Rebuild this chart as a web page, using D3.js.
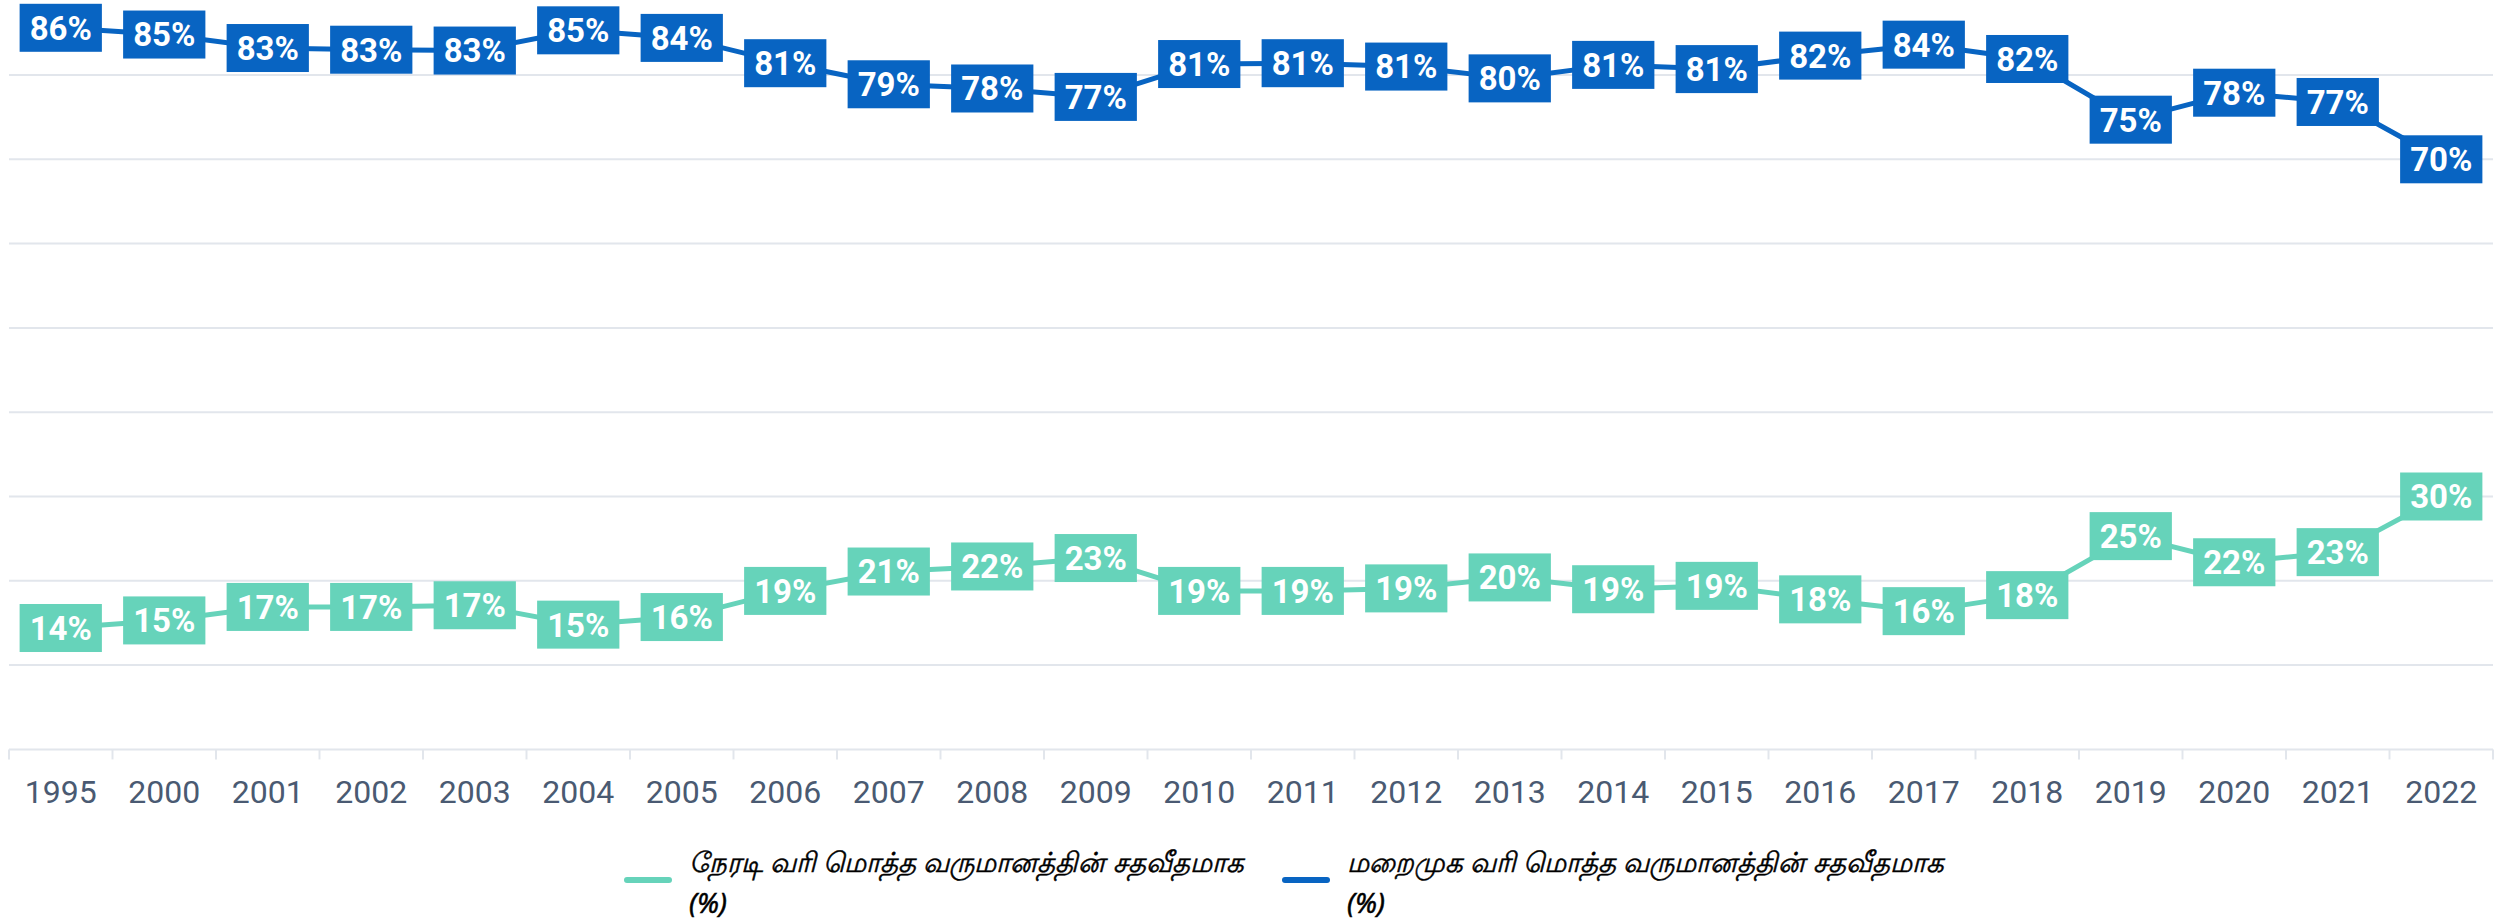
<!DOCTYPE html>
<html>
<head>
<meta charset="utf-8">
<script src="https://cdn.jsdelivr.net/npm/d3@7"></script>
<style>
  html, body { margin: 0; padding: 0; background: #ffffff; }
  svg { display: block; }
</style>
</head>
<body>
<svg id="chart" width="2496" height="921"></svg>
<script>
const years = ["1995","2000","2001","2002","2003","2004","2005","2006","2007","2008","2009","2010","2011","2012","2013","2014","2015","2016","2017","2018","2019","2020","2021","2022"];
const directShare = [14.4, 15.3, 16.9, 16.9, 17.1, 14.8, 15.7, 18.8, 21.1, 21.7, 22.7, 18.8, 18.8, 19.1, 20.4, 19.0, 19.4, 17.8, 16.4, 18.3, 25.3, 22.2, 23.4, 30.0];
const indirectShare = [85.6, 84.8, 83.2, 83.0, 82.9, 85.3, 84.4, 81.4, 78.9, 78.4, 77.4, 81.3, 81.4, 81.0, 79.6, 81.2, 80.7, 82.3, 83.6, 81.9, 74.7, 77.9, 76.8, 70.0];
const gridTicks = [0, 10, 20, 30, 40, 50, 60, 70, 80, 90];
const seriesNames = ["நேரடி வரி மொத்த வருமானத்தின் சதவீதமாக", "மறைமுக வரி மொத்த வருமானத்தின் சதவீதமாக"];
const seriesSuffix = "(%)";
const seriesColors = ["#66D3BA", "#0864C2"];

const svg = d3.select("#chart");
const x = d3.scaleBand().domain(years).range([9, 2493]).padding(0);
const y = d3.scaleLinear().domain([0, 90]).range([749.4, -9.3]);

// grid
svg.append("g").selectAll("line").data(gridTicks.filter(d => d > 0)).join("line")
  .attr("x1", 9).attr("x2", 2493)
  .attr("y1", d => y(d)).attr("y2", d => y(d))
  .attr("stroke", "#E2E6EC").attr("stroke-width", 2);

// x axis
const xAxis = svg.append("g").attr("transform", `translate(0,${y(0)})`)
  .call(d3.axisBottom(x).tickSize(0).tickPadding(0));
xAxis.select(".domain").remove();
xAxis.selectAll(".tick text").remove();
svg.append("line").attr("x1", 9).attr("x2", 2493).attr("y1", y(0)).attr("y2", y(0))
  .attr("stroke", "#E2E6EC").attr("stroke-width", 2);
const bounds = years.map(d => x(d)).concat([x(years[years.length-1]) + x.bandwidth()]);
svg.append("g").selectAll("line").data(bounds).join("line")
  .attr("x1", d => d).attr("x2", d => d)
  .attr("y1", y(0)).attr("y2", y(0) + 10)
  .attr("stroke", "#E2E6EC").attr("stroke-width", 2);
svg.append("g").selectAll("text").data(years).join("text")
  .attr("x", d => x(d) + x.bandwidth()/2)
  .attr("y", 791)
  .attr("dy", "0.36em")
  .attr("text-anchor", "middle")
  .attr("font-family", "'Liberation Sans Narrow', 'Roboto', sans-serif")
  .attr("font-size", 32)
  .attr("fill", "#4A5A72")
  .text(d => d);

const fmt = d3.format(".0f");
const line = d3.line().x((d, i) => x(years[i]) + x.bandwidth()/2).y(d => y(d));

[directShare, indirectShare].forEach((vals, si) => {
  const col = seriesColors[si];
  svg.append("path").datum(vals)
    .attr("d", line)
    .attr("fill", "none")
    .attr("stroke", col)
    .attr("stroke-width", 5)
    .attr("stroke-linejoin", "round");
  const g = svg.append("g");
  const lab = g.selectAll("g").data(vals).join("g")
    .attr("transform", (d, i) => `translate(${x(years[i]) + x.bandwidth()/2},${y(d)})`);
  const rects = lab.append("rect").attr("fill", col);
  const texts = lab.append("text")
    .attr("text-anchor", "middle")
    .attr("dy", "0.36em")
    .attr("font-family", "Roboto, sans-serif")
    .attr("font-weight", 700)
    .attr("font-size", 33)
    .attr("fill", "#ffffff")
    .text(d => fmt(d) + "%");
  texts.each(function(d) {
    const w = this.getComputedTextLength() + 20;
    d3.select(this.parentNode).select("rect")
      .attr("x", -w/2).attr("y", -24).attr("width", w).attr("height", 48);
  });
});

// legend
const legendX = [624, 1282];
const leg = svg.append("g").selectAll("g").data(seriesNames).join("g")
  .attr("transform", (d, i) => `translate(${legendX[i]},0)`);
leg.append("line")
  .attr("x1", 3).attr("x2", 45).attr("y1", 880).attr("y2", 880)
  .attr("stroke", (d, i) => seriesColors[i])
  .attr("stroke-width", 6).attr("stroke-linecap", "round");
const lt = leg.append("text")
  .attr("font-family", "'Noto Sans', 'DejaVu Sans', sans-serif")
  .attr("font-style", "italic")
  .attr("font-size", 27.5)
  .attr("fill", "#000000")
  .attr("stroke", "#000000")
  .attr("stroke-width", 0.5);
lt.append("tspan").attr("x", 65).attr("y", 872).text(d => d);
lt.append("tspan").attr("x", 65).attr("y", 913).text(seriesSuffix);
</script>
</body>
</html>
